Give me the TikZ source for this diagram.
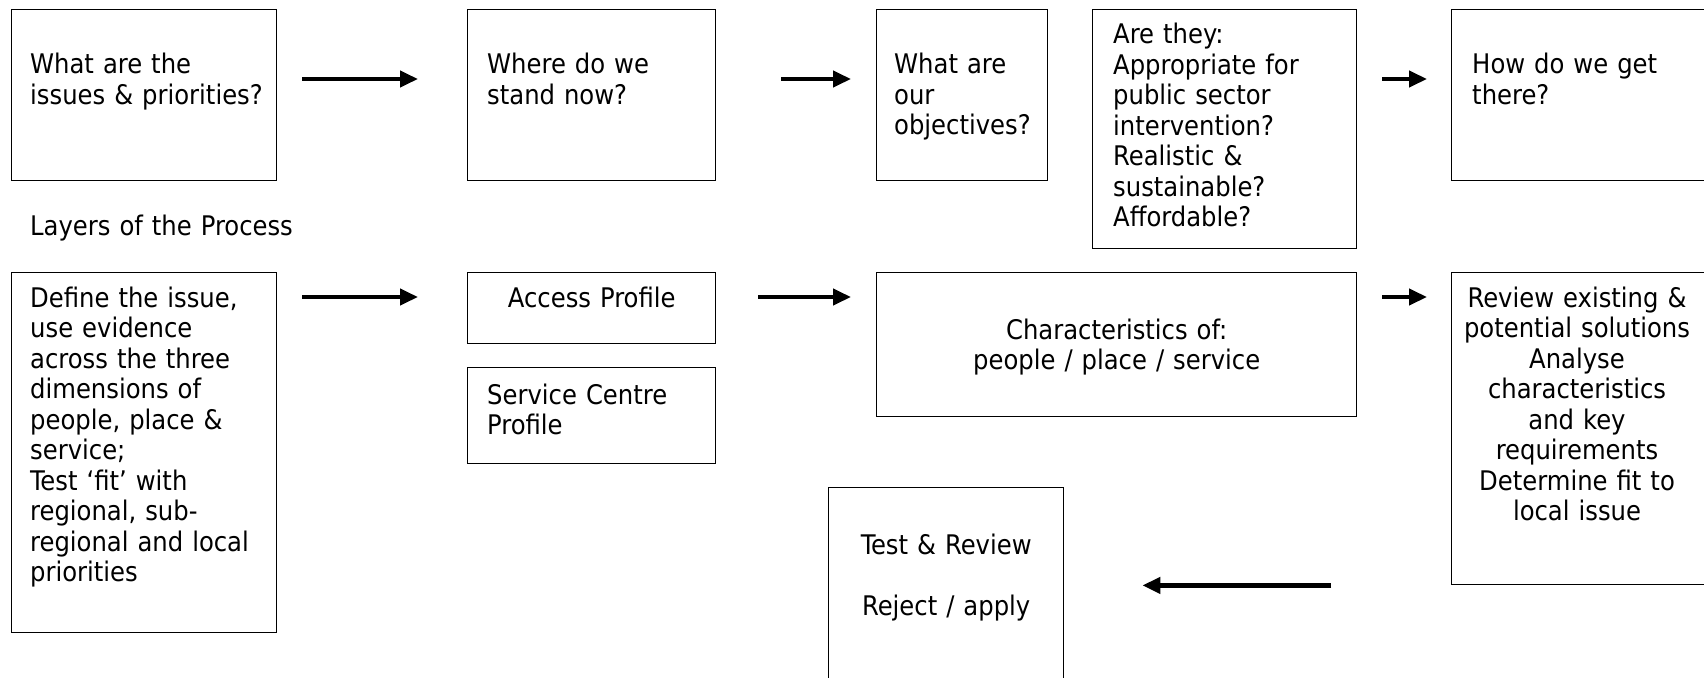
\documentclass[tikz,border=0pt]{standalone}
\usepackage{fontspec}
\setmainfont{DejaVu Sans Condensed}
\usetikzlibrary{arrows.meta}

\tikzset{
    frame/.style={draw, line width=1.4pt, inner sep=0pt, anchor=north west},
    lefttext/.style={inner sep=0pt, anchor=base west, align=left, text width=300pt,
        font=\fontsize{27}{30.5}\selectfont},
    midtext/.style={inner sep=0pt, anchor=base, align=center, text width=320pt,
        font=\fontsize{27}{30.5}\selectfont},
    flow/.style={line width=4.3pt, -{Triangle[length=18pt, width=16pt]}}
}

\begin{document}
\begin{tikzpicture}[x=1pt, y=-1pt]

    % page frame, boxes on the right and bottom run off it
    \useasboundingbox (0,0) rectangle (1704,677);
    \clip (0,0) rectangle (1704,677);

    % Top row: the questions
    \node[frame, minimum width=265, minimum height=171] (issues) at (11,9) {};
    \node[frame, minimum width=248, minimum height=171] (stand) at (467,9) {};
    \node[frame, minimum width=171, minimum height=171] (objectives) at (876,9) {};
    \node[frame, minimum width=264, minimum height=239] (arethey) at (1092,9) {};
    \node[frame, minimum width=261, minimum height=171] (getthere) at (1451,9) {};

    \node[lefttext] (issues-txt) at ([shift={(19,65)}]issues.north west)
        {What are the\\issues \& priorities?};
    \node[lefttext] (stand-txt) at ([shift={(20,65)}]stand.north west)
        {Where do we\\stand now?};
    \node[lefttext] (objectives-txt) at ([shift={(18,65)}]objectives.north west)
        {What are\\our\\objectives?};
    \node[lefttext] (arethey-txt) at ([shift={(21,35)}]arethey.north west)
        {Are they:\\Appropriate for\\public sector\\intervention?\\Realistic \&\\sustainable?\\Affordable?};
    \node[lefttext] (getthere-txt) at ([shift={(21,65)}]getthere.north west)
        {How do we get\\there?};

    % Layer caption
    \node[lefttext] (layers) at (30,235) {Layers of the Process};

    % Bottom rows: the process
    \node[frame, minimum width=265, minimum height=360] (define) at (11,272) {};
    \node[frame, minimum width=248, minimum height=71] (access) at (467,272) {};
    \node[frame, minimum width=248, minimum height=96] (centre) at (467,367) {};
    \node[frame, minimum width=480, minimum height=144] (charac) at (876,272) {};
    \node[frame, minimum width=261, minimum height=312] (review) at (1451,272) {};
    \node[frame, minimum width=235, minimum height=203] (test) at (828,487) {};

    \node[lefttext] (define-txt) at ([shift={(19,35)}]define.north west)
        {Define the issue,\\use evidence\\across the three\\dimensions of\\people, place \&\\service;\\Test ‘fit’ with\\regional, sub-\\regional and local\\priorities};
    \node[midtext] (access-txt) at ([yshift=-35pt]access.north) {Access Profile};
    \node[lefttext] (centre-txt) at ([shift={(20,37)}]centre.north west)
        {Service Centre\\Profile};
    \node[midtext] (charac-txt) at ([yshift=-67pt]charac.north)
        {Characteristics of:\\people / place / service};
    \node[midtext] (review-txt) at ([shift={(126,35)}]review.north west)
        {Review existing \&\\potential solutions\\Analyse\\characteristics\\and key\\requirements\\Determine fit to\\local issue};
    \node[midtext] (test-txt) at ([yshift=-67pt]test.north)
        {Test \& Review\\[30.5pt]Reject / apply};

    % Arrows between the boxes
    \draw[flow] ([shift={(25,70)}]issues.north east) -- ([shift={(-49,70)}]stand.north west);
    \draw[flow] ([shift={(65,70)}]stand.north east) -- ([shift={(-25,70)}]objectives.north west);
    \draw[flow] ([shift={(25,70)}]arethey.north east |- getthere.north west) -- ([shift={(-24,70)}]getthere.north west);
    \draw[flow] ([shift={(25,25)}]define.north east) -- ([shift={(-49,25)}]access.north west);
    \draw[flow] ([shift={(42,25)}]access.north east) -- ([shift={(-25,25)}]charac.north west);
    \draw[flow] ([shift={(25,25)}]charac.north east) -- ([shift={(-24,25)}]review.north west);
    \draw[flow] ([shift={(-120,0)}]review.south west) -- ([xshift=78pt]test.east |- review.south west);

\end{tikzpicture}
\end{document}
